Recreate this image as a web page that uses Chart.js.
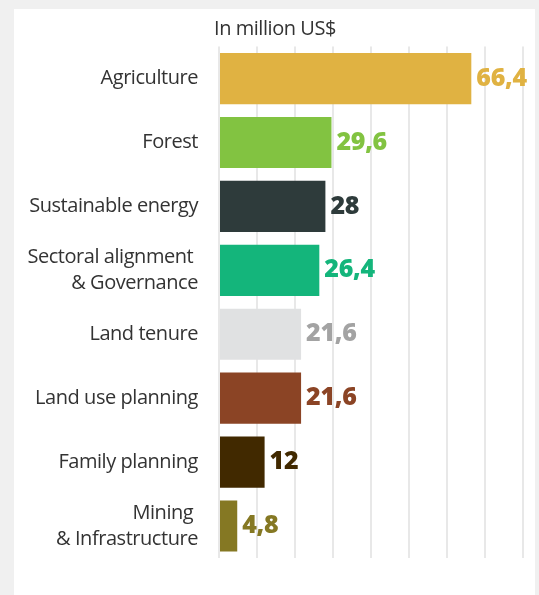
<!DOCTYPE html>
<html>
<head>
<meta charset="utf-8">
<script src="https://cdn.jsdelivr.net/npm/chart.js@4.4.1/dist/chart.umd.min.js"></script>
<style>
  html, body { margin: 0; padding: 0; background: #f0f0f0; }
  body { width: 539px; height: 595px; position: relative; overflow: hidden; }
  #card { position: absolute; left: 14px; top: 9px; width: 521px; height: 600px; background: #ffffff; }
  #wrap { position: absolute; left: 0; top: 0; width: 539px; height: 595px; }
</style>
</head>
<body>
<div id="card"></div>
<div id="wrap"><canvas id="c" width="539" height="595"></canvas></div>
<script>
const chartTitle = 'In million US$';
const categories = [
  'Agriculture',
  'Forest',
  'Sustainable energy',
  ['Sectoral alignment ', '& Governance'],
  'Land tenure',
  'Land use planning',
  'Family planning',
  ['Mining ', '& Infrastructure']
];
const values = [66.4, 29.6, 28, 26.4, 21.6, 21.6, 12, 4.8];
const barColors = ['#e0b242', '#82c341', '#2e3b3b', '#14b57b', '#e0e1e2', '#8b4425', '#412900', '#857823'];
const labelColors = ['#e0b242', '#82c341', '#2e3b3b', '#14b57b', '#a3a3a3', '#8b4425', '#412900', '#857823'];
const axisMin = 0, axisMax = 80, axisStep = 10;

const tightText = {
  id: 'tightText',
  beforeDraw(chart) {
    chart.ctx.letterSpacing = '-0.45px';
  }
};
const valueLabels = {
  id: 'valueLabels',
  afterDatasetsDraw(chart) {
    const ctx = chart.ctx;
    const meta = chart.getDatasetMeta(0);
    ctx.save();
    ctx.letterSpacing = '-0.3px';
    ctx.font = '800 25px "Open Sans"';
    ctx.textBaseline = 'middle';
    ctx.textAlign = 'left';
    meta.data.forEach((bar, i) => {
      ctx.fillStyle = labelColors[i];
      const txt = String(values[i]).replace('.', ',');
      ctx.fillText(txt, bar.x + 5, bar.y);
    });
    ctx.restore();
  }
};
const topTitle = {
  id: 'topTitle',
  afterDraw(chart) {
    const ctx = chart.ctx;
    ctx.save();
    ctx.letterSpacing = '-0.45px';
    ctx.font = '20px "Open Sans"';
    ctx.fillStyle = '#333333';
    ctx.textAlign = 'left';
    ctx.textBaseline = 'middle';
    ctx.fillText(chartTitle, chart.chartArea.left - 5, chart.chartArea.top - 17);
    ctx.restore();
  }
};

new Chart(document.getElementById('c'), {
  type: 'bar',
  data: {
    labels: categories,
    datasets: [{
      data: values,
      backgroundColor: barColors,
      borderWidth: 0,
      categoryPercentage: 1.0,
      barPercentage: 0.8
    }]
  },
  options: {
    indexAxis: 'y',
    responsive: false,
    animation: false,
    devicePixelRatio: 1,
    layout: { padding: { top: 45, bottom: 37, right: 16, left: 0 } },
    plugins: { legend: { display: false }, tooltip: { enabled: false }, title: { display: false } },
    scales: {
      x: {
        min: axisMin, max: axisMax,
        ticks: { display: false, stepSize: axisStep },
        grid: { display: true, drawTicks: false, color: '#e8e8e8', lineWidth: 2 },
        border: { display: false },
        afterFit(s) { s.height = 0; }
      },
      y: {
        ticks: { color: '#333333', padding: 21, font: { family: '"Open Sans"', size: 20, lineHeight: 1.28 } },
        grid: { display: false, drawTicks: false },
        border: { display: false },
        afterFit(s) { s.width = 219; }
      }
    }
  },
  plugins: [tightText, valueLabels, topTitle]
});
</script>
</body>
</html>
